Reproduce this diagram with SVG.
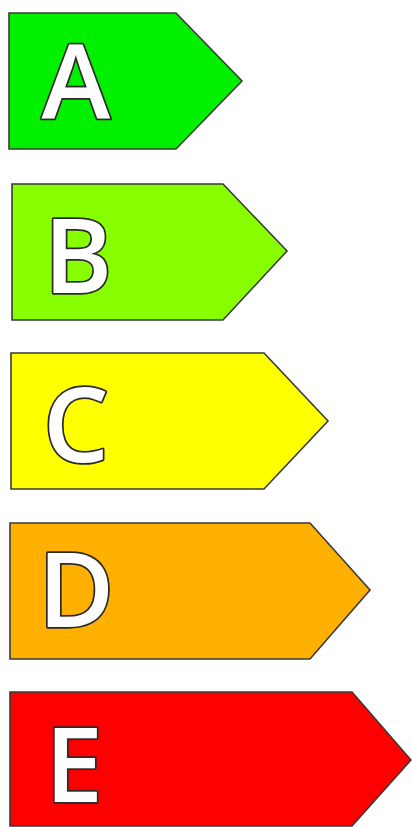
<svg xmlns="http://www.w3.org/2000/svg" width="412" height="827" viewBox="0 0 412 827">
<style>
.band{stroke:#3a3a3a;stroke-width:1.6;stroke-linejoin:miter}
.lbl{font-family:"Open Sans","DejaVu Sans",sans-serif;font-weight:600;font-size:104px;fill:#ffffff;stroke:#2a2a2a;stroke-width:3.5;paint-order:stroke;text-anchor:middle;stroke-linejoin:round}
</style>
<rect width="412" height="827" fill="#ffffff"/>
<g id="A">
<polygon class="band" fill="#00f000" points="9,13 176,13 242,81 176,149 9,149"/>
<text class="lbl" x="76" y="119">A</text>
</g>
<g id="B">
<polygon class="band" fill="#88ff00" points="12,184 223,184 287,251 223,320 12,320"/>
<text class="lbl" x="78" y="293">B</text>
</g>
<g id="C">
<polygon class="band" fill="#ffff00" points="11,353 264,353 328,421 264,489 11,489"/>
<text class="lbl" x="76" y="462">C</text>
</g>
<g id="D">
<polygon class="band" fill="#ffb000" points="10,523 310,523 370,590 310,659 10,659"/>
<text class="lbl" x="76" y="627">D</text>
</g>
<g id="E">
<polygon class="band" fill="#ff0000" points="10,692 352,692 411,760 352,826 10,826"/>
<text class="lbl" x="74" y="802">E</text>
</g>
<g id="connectors"/>
</svg>
